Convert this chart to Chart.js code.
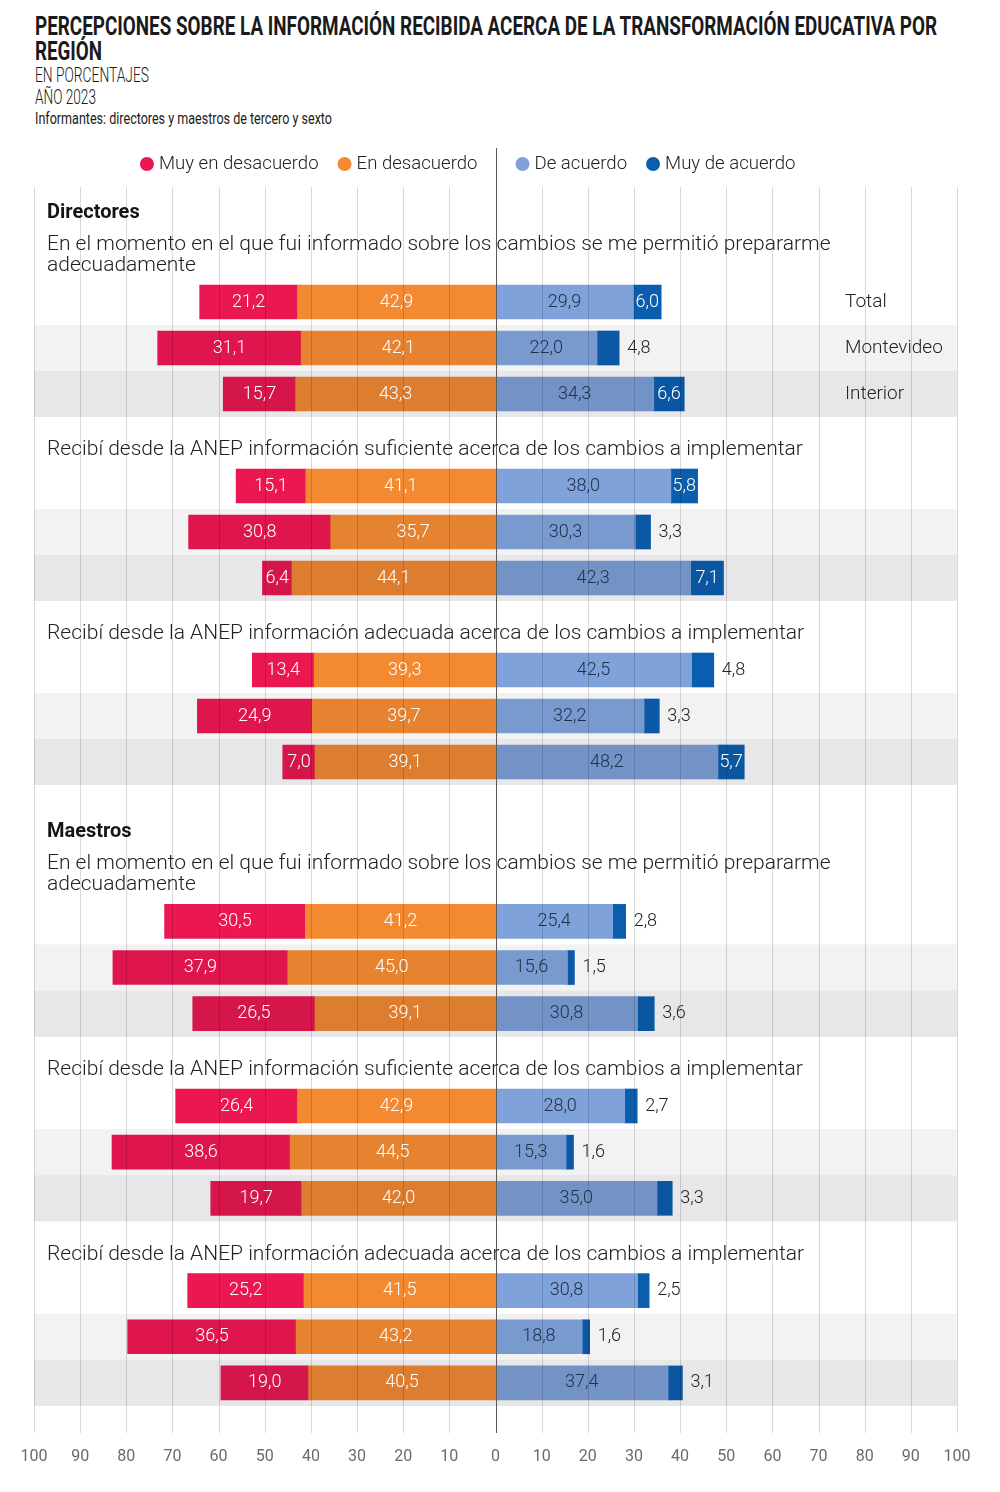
<!DOCTYPE html>
<html>
<head>
<meta charset="utf-8">
<script src="https://cdn.jsdelivr.net/npm/chart.js@4/dist/chart.umd.min.js"></script>
<style>
  body { margin: 0; background: #fff; width: 1000px; height: 1492px; position: relative; overflow: hidden; }
  .head { position: absolute; left: 35px; top: 14px; font-family: Roboto, "Noto Sans", sans-serif; color: #1a1a1a; }
  .head div { white-space: nowrap; }
  .head span { display: inline-block; transform-origin: 0 50%; }
  .title { font-size: 25px; font-weight: bold; line-height: 25px; }
  .sub { font-size: 20px; font-weight: 300; line-height: 22px; }
  .note { font-size: 16px; font-weight: 400; line-height: 22px; }
  canvas { position: absolute; left: 0; }
  #dirChart { top: 140px; }
  #maeChart { top: 785px; }
</style>
</head>
<body>
<div class="head">
  <div class="title"><span data-w="902">PERCEPCIONES SOBRE LA INFORMACIÓN RECIBIDA ACERCA DE LA TRANSFORMACIÓN EDUCATIVA POR</span></div>
  <div class="title"><span data-w="67">REGIÓN</span></div>
  <div class="sub"><span data-w="114">EN PORCENTAJES</span></div>
  <div class="sub"><span data-w="61">AÑO 2023</span></div>
  <div class="note"><span data-w="297">Informantes: directores y maestros de tercero y sexto</span></div>
</div>
<canvas id="dirChart" width="1000" height="645"></canvas>
<canvas id="maeChart" width="1000" height="707"></canvas>
<script>
// categories
const regions = ['Total', 'Montevideo', 'Interior'];
const questions = [
  'En el momento en el que fui informado sobre los cambios se me permitió prepararme adecuadamente',
  'Recibí desde la ANEP información suficiente acerca de los cambios a implementar',
  'Recibí desde la ANEP información adecuada acerca de los cambios a implementar'
];
const seriesNames = ['Muy en desacuerdo', 'En desacuerdo', 'De acuerdo', 'Muy de acuerdo'];
const seriesColors = ['#eb1750', '#f38a31', '#7ea2d9', '#0b5eae'];

// Directores, one row per question: [Total, Montevideo, Interior]
const dirMuyDesacuerdo = [[21.2, 31.1, 15.7], [15.1, 30.8, 6.4], [13.4, 24.9, 7.0]];
const dirDesacuerdo    = [[42.9, 42.1, 43.3], [41.1, 35.7, 44.1], [39.3, 39.7, 39.1]];
const dirAcuerdo       = [[29.9, 22.0, 34.3], [38.0, 30.3, 42.3], [42.5, 32.2, 48.2]];
const dirMuyAcuerdo    = [[6.0, 4.8, 6.6], [5.8, 3.3, 7.1], [4.8, 3.3, 5.7]];

// Maestros
const maeMuyDesacuerdo = [[30.5, 37.9, 26.5], [26.4, 38.6, 19.7], [25.2, 36.5, 19.0]];
const maeDesacuerdo    = [[41.2, 45.0, 39.1], [42.9, 44.5, 42.0], [41.5, 43.2, 40.5]];
const maeAcuerdo       = [[25.4, 15.6, 30.8], [28.0, 15.3, 35.0], [30.8, 18.8, 37.4]];
const maeMuyAcuerdo    = [[2.8, 1.5, 3.6], [2.7, 1.6, 3.3], [2.5, 1.6, 3.1]];

// x axis ticks
const tickValues = [-100, -90, -80, -70, -60, -50, -40, -30, -20, -10, 0, 10, 20, 30, 40, 50, 60, 70, 80, 90, 100];

const FONT = 'Roboto, "Noto Sans", sans-serif';
const fmt = v => Math.abs(v).toFixed(1).replace('.', ',');

// squeeze the heading lines to a condensed look
document.querySelectorAll('.head span').forEach(el => {
  const w = el.getBoundingClientRect().width;
  el.style.transform = 'scaleX(' + (el.dataset.w / w) + ')';
});

// slot list: section header, then question text + 3 region rows per question
function buildSlots(section) {
  const slots = [{ kind: 'section', label: section }];
  questions.forEach((q, qi) => {
    slots.push({ kind: 'question', label: q });
    regions.forEach((r, ri) => slots.push({ kind: 'row', label: r, q: qi, r: ri }));
  });
  return slots;
}

function wrapText(ctx, text, maxWidth) {
  const words = text.split(' ');
  const lines = [];
  let line = '';
  words.forEach(w => {
    const test = line ? line + ' ' + w : w;
    if (ctx.measureText(test).width > maxWidth && line) {
      lines.push(line);
      line = w;
    } else {
      line = test;
    }
  });
  lines.push(line);
  return lines;
}

const decorPlugin = {
  id: 'decor',
  afterDatasetsDraw(chart, args, opts) {
    const ctx = chart.ctx;
    const area = chart.chartArea;
    const xs = chart.scales.x;
    const ys = chart.scales.y;
    const slots = opts.slots;
    const step = ys.getPixelForValue(1) - ys.getPixelForValue(0);

    ctx.save();
    // row bands laid over the bars
    slots.forEach((s, i) => {
      if (s.kind !== 'row' || s.r === 0) return;
      const yc = ys.getPixelForValue(i);
      ctx.fillStyle = s.r === 1 ? 'rgba(20,20,40,0.055)' : 'rgba(20,20,40,0.1)';
      ctx.fillRect(area.left, yc - step / 2, area.right - area.left, step);
    });

    // vertical gridlines
    const gTop = opts.gridTop;
    const gBottom = area.bottom + opts.gridExtra;
    ctx.lineWidth = 1;
    ctx.strokeStyle = 'rgba(0,0,0,0.15)';
    tickValues.forEach(v => {
      if (v === 0) return;
      const px = Math.round(xs.getPixelForValue(v)) + 0.5;
      ctx.beginPath();
      ctx.moveTo(px, gTop);
      ctx.lineTo(px, gBottom);
      ctx.stroke();
    });
    const x0 = Math.round(xs.getPixelForValue(0)) + 0.5;
    ctx.strokeStyle = '#5a5a5a';
    ctx.beginPath();
    ctx.moveTo(x0, opts.zeroTop);
    ctx.lineTo(x0, gBottom);
    ctx.stroke();

    // headers and question texts
    ctx.textBaseline = 'middle';
    ctx.textAlign = 'left';
    slots.forEach((s, i) => {
      const yc = ys.getPixelForValue(i);
      if (s.kind === 'section') {
        ctx.font = 'bold 20px ' + FONT;
        ctx.fillStyle = '#151515';
        ctx.fillText(s.label, 47, yc + 3);
      } else if (s.kind === 'question') {
        ctx.font = '300 21px ' + FONT;
        ctx.fillStyle = '#222';
        const lines = wrapText(ctx, s.label, 860);
        lines.forEach((ln, k) => {
          ctx.fillText(ln, 47, yc + 10 - (lines.length - 1 - k) * 21);
        });
      } else if (opts.regionLabels && s.q === 0) {
        ctx.font = '300 19px ' + FONT;
        ctx.fillStyle = '#222';
        ctx.fillText(s.label, 845, yc);
      }
    });

    // value labels
    ctx.font = '300 18px ' + FONT;
    chart.data.datasets.forEach((ds, di) => {
      const meta = chart.getDatasetMeta(di);
      meta.data.forEach((el, i) => {
        const v = ds.data[i];
        if (v === null || v === undefined) return;
        const txt = fmt(v);
        const w = Math.abs(el.x - el.base);
        const tw = ctx.measureText(txt).width;
        if (ds.kind === 3 && w < tw) {
          ctx.textAlign = 'left';
          ctx.fillStyle = '#222';
          ctx.fillText(txt, Math.max(el.x, el.base) + 8, el.y);
        } else {
          ctx.textAlign = 'center';
          ctx.fillStyle = ds.kind === 2 ? '#23304a' : '#fff';
          ctx.fillText(txt, (el.x + el.base) / 2, el.y);
        }
      });
    });

    // legend
    if (opts.legend) {
      const ly = 24;
      ctx.font = '300 18.6px ' + FONT;
      ctx.textAlign = 'left';
      const itemW = k => 19 + ctx.measureText(seriesNames[k]).width;
      const drawItem = (k, cx) => {
        ctx.fillStyle = seriesColors[k];
        ctx.beginPath(); ctx.arc(cx + 7, ly, 7, 0, Math.PI * 2); ctx.fill();
        ctx.fillStyle = '#222';
        ctx.fillText(seriesNames[k], cx + 19, ly);
      };
      // left pair ends before the zero line, right pair starts after it
      let cx = x0 - 19 - itemW(1) - 19 - itemW(0);
      drawItem(0, cx);
      drawItem(1, cx + itemW(0) + 19);
      cx = x0 + 19;
      drawItem(2, cx);
      drawItem(3, cx + itemW(2) + 19);
    }
    ctx.restore();
  }
};

function makeChart(id, section, muyDes, des, acu, muyAcu, bottom) {
  const slots = buildSlots(section);
  const pick = (arr, sign) => slots.map(s => s.kind === 'row' ? sign * arr[s.q][s.r] : null);
  // negative stack: first dataset sits next to zero
  const datasets = [
    { kind: 1, label: seriesNames[1], data: pick(des, -1), backgroundColor: seriesColors[1] },
    { kind: 0, label: seriesNames[0], data: pick(muyDes, -1), backgroundColor: seriesColors[0] },
    { kind: 2, label: seriesNames[2], data: pick(acu, 1), backgroundColor: seriesColors[2] },
    { kind: 3, label: seriesNames[3], data: pick(muyAcu, 1), backgroundColor: seriesColors[3] }
  ];
  datasets.forEach(d => { d.barThickness = 34; d.borderWidth = 0; });

  return new Chart(document.getElementById(id), {
    type: 'bar',
    data: { labels: slots.map(s => s.label), datasets: datasets },
    options: {
      indexAxis: 'y',
      responsive: false,
      animation: false,
      layout: { padding: { left: 34, right: 43, top: bottom ? 21 : 47, bottom: 0 } },
      scales: {
        x: {
          stacked: true,
          min: -100,
          max: 100,
          display: bottom,
          grid: { display: false, drawTicks: false },
          border: { display: false },
          afterBuildTicks: axis => { axis.ticks = tickValues.map(v => ({ value: v })); },
          afterFit: axis => {
            axis.paddingLeft = 0;
            axis.paddingRight = 0;
            if (bottom) axis.height = 86;
          },
          ticks: {
            padding: 41,
            color: '#6b6b6b',
            font: { family: FONT, size: 16 },
            callback: v => Math.abs(v)
          }
        },
        y: { stacked: true, display: false }
      },
      plugins: {
        legend: { display: false },
        tooltip: { enabled: false },
        decor: {
          slots: slots,
          legend: !bottom,
          regionLabels: !bottom,
          gridTop: bottom ? 0 : 47,
          zeroTop: bottom ? 0 : 8,
          gridExtra: bottom ? 27 : 0
        }
      }
    },
    plugins: [decorPlugin]
  });
}

makeChart('dirChart', 'Directores', dirMuyDesacuerdo, dirDesacuerdo, dirAcuerdo, dirMuyAcuerdo, false);
makeChart('maeChart', 'Maestros', maeMuyDesacuerdo, maeDesacuerdo, maeAcuerdo, maeMuyAcuerdo, true);
</script>
</body>
</html>
